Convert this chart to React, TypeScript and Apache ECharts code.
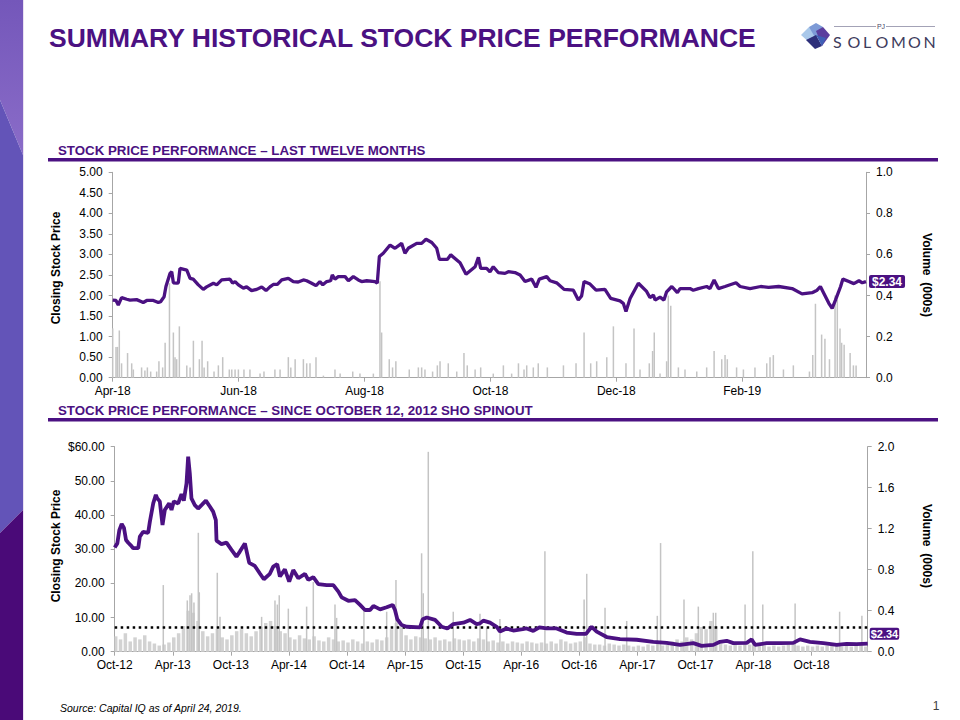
import React, { useEffect, useRef } from 'react';
import * as echarts from 'echarts';

const PURPLE = '#4b1182';
const FONT = '"Liberation Sans", Arial, sans-serif';

// ---- Last twelve months (x = days since Apr 24, 2018) ----
const LTM_TICKS = ['Apr-18', 'Jun-18', 'Aug-18', 'Oct-18', 'Dec-18', 'Feb-19'];
const LTM_TICK_STEP = 61;
const LTM_DAYS = 365;
const LTM_PRICE: [number, number][] = [
  [0, 1.89], [1.6, 1.88], [2.7, 1.77], [4.3, 1.95], [6.8, 1.91], [8.4, 1.89], [11.6, 1.9], [14, 1.85], [14.8, 1.83],
  [16.5, 1.88], [19.7, 1.88], [22.1, 1.83], [23.2, 1.85], [24.9, 1.97], [25.8, 2.22], [27.8, 2.54], [28.6, 2.58],
  [29.4, 2.31], [31, 2.3], [31.8, 2.31], [32.6, 2.66], [35.9, 2.62], [37.5, 2.42], [39, 2.4], [41.5, 2.26], [43.9, 2.15],
  [45.5, 2.21], [48.8, 2.3], [50.4, 2.26], [52.8, 2.38], [56.8, 2.4], [58.1, 2.3], [59.3, 2.34], [60.9, 2.26], [63.3, 2.18],
  [64.9, 2.21], [67.3, 2.12], [69.8, 2.15], [72.2, 2.21], [74.3, 2.12], [76.2, 2.21], [77.8, 2.27], [79.8, 2.27], [81.9, 2.38],
  [85.1, 2.42], [87.5, 2.34], [89.9, 2.33], [92.4, 2.38], [94, 2.36], [96.4, 2.3], [98.5, 2.24], [100.4, 2.34], [101.8, 2.26],
  [103.7, 2.34], [105.6, 2.36], [106.4, 2.5], [107.7, 2.4], [109.3, 2.46], [112.6, 2.46], [114.2, 2.36], [116.6, 2.46],
  [119, 2.38], [120.6, 2.34], [123.1, 2.36], [127.1, 2.34], [128.2, 2.3], [129.2, 2.95], [131.1, 3.03], [134.4, 3.23],
  [136.8, 3.15], [140, 3.27], [141.6, 3.03], [143.2, 3.15], [147.3, 3.27], [149.7, 3.27], [151.8, 3.37], [154.6, 3.29],
  [157, 3.15], [158.3, 2.88], [162.1, 2.88], [163.8, 2.99], [168.3, 2.8], [171.2, 2.52], [175.6, 2.7], [177.2, 2.93],
  [178.3, 2.66], [181.2, 2.66], [182.8, 2.58], [184.4, 2.7], [186.8, 2.56], [190.1, 2.54], [191.7, 2.58], [194.9, 2.56],
  [197.4, 2.5], [199.8, 2.34], [203, 2.4], [205.1, 2.2], [206.7, 2.4], [210.3, 2.46], [211.9, 2.36], [215.1, 2.31],
  [218.7, 2.15], [223.2, 2.13], [225.6, 1.89], [227.2, 1.99], [228.4, 2.34], [231.3, 2.28], [234.2, 2.13], [238.5, 2.15],
  [241.3, 1.93], [245.8, 1.87], [247.4, 1.81], [248.7, 1.61], [250.7, 1.93], [254.7, 2.3], [258.7, 2.1], [260.3, 1.95],
  [262, 2.01], [262.8, 1.89], [265.2, 1.96], [267.1, 1.89], [268.4, 2.09], [270.9, 2.22], [273.6, 2.07], [274.9, 2.17],
  [279.7, 2.17], [281.3, 2.13], [283.8, 2.17], [287.8, 2.22], [289.4, 2.17], [291.4, 2.38], [293.5, 2.17], [296.7, 2.22],
  [302, 2.31], [304, 2.22], [308.8, 2.17], [314, 2.22], [317.8, 2.2], [322.7, 2.22], [329.2, 2.17], [334, 2.04],
  [338.9, 2.07], [341.3, 2.13], [342.9, 2.22], [344.6, 2.05], [347, 1.81], [348.6, 1.69], [350.2, 1.89], [352.7, 2.22],
  [353.8, 2.4], [356.7, 2.34], [359.1, 2.29], [361.6, 2.36], [363.2, 2.31], [365, 2.34],
];
const LTM_VOLUME: [number, number][] = [
  [0, 0.24], [1.6, 0.15], [2.3, 0.15], [3.2, 0.23], [4.3, 0.07], [7.2, 0.12], [9.2, 0.07], [10, 0.04], [14, 0.05],
  [15.6, 0.035], [16.8, 0.05], [18.4, 0.03], [21.3, 0.03], [22.4, 0.08], [24.2, 0.05], [25.4, 0.17], [27.5, 0.46],
  [29.4, 0.22], [30.2, 0.1], [31, 0.09], [32.3, 0.25], [35.9, 0.06], [37.5, 0.05], [39.1, 0.18], [42, 0.09], [43.3, 0.18],
  [44.3, 0.05], [46, 0.08], [49.1, 0.03], [51.2, 0.06], [53.3, 0.1], [56.5, 0.04], [57.7, 0.04], [59.3, 0.04], [60.9, 0.04],
  [63.6, 0.04], [66.5, 0.04], [71.4, 0.02], [73.3, 0.03], [78.6, 0.04], [81.1, 0.04], [85.1, 0.1], [86.3, 0.05], [88.4, 0.09],
  [92.4, 0.09], [94, 0.07], [95.6, 0.07], [98.5, 0.1], [102.1, 0.01], [107.7, 0.04], [110.2, 0.02], [116.3, 0.03],
  [119.8, 0.02], [126.3, 0.02], [129.5, 0.47], [130.3, 0.22], [134, 0.09], [135.6, 0.05], [137.2, 0.08], [143.7, 0.04],
  [148.1, 0.05], [149.7, 0.05], [151.3, 0.04], [155, 0.03], [157.3, 0.06], [158.6, 0.08], [162.6, 0.07], [166.7, 0.03],
  [170.2, 0.12], [171.8, 0.06], [175.6, 0.04], [178.3, 0.05], [184.4, 0.02], [189.3, 0.06], [193.3, 0.02], [196.6, 0.07],
  [199.3, 0.04], [200.6, 0.06], [203.8, 0.05], [206.2, 0.07], [210.6, 0.05], [218.4, 0.06], [224.5, 0.07], [228.4, 0.22],
  [231.6, 0.07], [234.5, 0.08], [239.4, 0.1], [242.6, 0.25], [248.7, 0.07], [252.6, 0.24], [255.5, 0.04], [260, 0.07],
  [261.6, 0.13], [262.4, 0.22], [265.2, 0.02], [268.4, 0.08], [269.2, 0.4], [270.4, 0.35], [274.1, 0.05], [277.3, 0.04],
  [283, 0.03], [287.8, 0.05], [291.4, 0.13], [295.1, 0.09], [296.7, 0.11], [297.8, 0.09], [302.3, 0.05], [305.6, 0.04],
  [311.2, 0.05], [316.9, 0.07], [318.5, 0.1], [320.1, 0.11], [325, 0.04], [329.8, 0.06], [337.6, 0.03], [339.2, 0.11],
  [340.5, 0.36], [343.5, 0.21], [345.1, 0.19], [347.3, 0.09], [350, 0.4], [351.1, 0.38], [352.4, 0.24], [353.2, 0.17],
  [354.4, 0.16], [357.3, 0.12], [358.9, 0.06], [360.2, 0.06],
];

// ---- Since spinout (x = months since Oct 12, 2012) ----
const SPIN_TICKS = ['Oct-12', 'Apr-13', 'Oct-13', 'Apr-14', 'Oct-14', 'Apr-15', 'Oct-15', 'Apr-16', 'Oct-16', 'Apr-17', 'Oct-17', 'Apr-18', 'Oct-18'];
const SPIN_TICK_STEP = 6;
const SPIN_MONTHS = 77.8;
const SPIN_PRICE: [number, number][] = [
  [0, 30.5], [0.27, 31.7], [0.48, 35.6], [0.72, 37.4], [0.96, 36.2], [1.17, 32.7], [1.4, 31.9], [1.64, 31.2], [1.91, 30.3],
  [2.43, 30.3], [2.6, 33.7], [2.94, 35.1], [3.46, 34.8], [3.63, 38.0], [3.98, 43.4], [4.25, 45.9], [4.39, 44.9], [4.66, 44.0],
  [4.94, 37.1], [5.18, 41.5], [5.63, 43.4], [5.87, 41.5], [6.11, 44.0], [6.56, 43.4], [6.9, 46.1], [7.14, 44.2], [7.42, 49.3],
  [7.59, 57.1], [7.76, 52.2], [7.93, 44.9], [8.28, 42.9], [8.62, 41.9], [8.97, 42.9], [9.42, 44.2], [9.83, 42.5], [10.17, 41.0],
  [10.45, 38.5], [10.52, 32.5], [11.03, 31.5], [11.55, 31.9], [12.07, 29.8], [12.58, 27.8], [12.93, 29.3], [13.45, 31.7],
  [13.9, 26.0], [14.48, 25.1], [15, 22.9], [15.41, 21.2], [16.03, 22.8], [16.38, 24.9], [16.79, 25.6], [17.07, 22.0],
  [17.58, 24.1], [18.03, 20.5], [18.45, 23.9], [18.97, 21.5], [19.66, 22.8], [20, 21.0], [20.52, 21.8], [21.04, 19.8],
  [21.9, 19.5], [22.59, 19.5], [23.11, 17.6], [23.45, 15.9], [24.14, 14.9], [24.83, 15.1], [25.35, 13.7], [25.86, 12.2],
  [26.38, 12.2], [26.73, 13.4], [27.42, 12.4], [28.1, 13.0], [28.72, 13.7], [28.96, 12.2], [29.2, 9.5], [29.65, 7.8],
  [30.17, 7.3], [31.55, 7.1], [31.82, 9.5], [32.24, 10.0], [33.1, 9.3], [33.79, 7.3], [34.37, 6.8], [34.99, 8.1], [36.03, 8.5],
  [36.71, 9.3], [37.4, 8.1], [37.74, 8.3], [38.08, 9.1], [38.78, 8.5], [39.47, 7.3], [39.8, 5.9], [40.49, 6.8], [41.18, 6.2],
  [42.16, 6.6], [42.56, 6.8], [43.25, 6.1], [43.88, 7.1], [44.63, 6.8], [45.66, 6.8], [46.7, 5.6], [47.73, 5.2], [48.7, 5.2],
  [49.28, 7.3], [49.8, 5.9], [50.83, 4.3], [52.21, 3.7], [53.93, 3.5], [55.65, 2.9], [57.03, 2.6], [58.41, 2.0], [59.78, 2.5],
  [60.64, 1.7], [61.85, 2.0], [62.54, 2.9], [63.23, 3.2], [63.92, 2.5], [65.3, 2.6], [65.81, 3.6], [66.16, 2.0], [67.36, 2.5],
  [68.74, 2.5], [70.12, 2.6], [70.81, 3.6], [71.84, 2.9], [73.22, 2.5], [74.6, 2.0], [75.63, 2.3], [76.66, 2.2], [77.8, 2.34],
];
// base volume, one value per half month from Oct-12
const SPIN_VOLUME_BASE = [
  0.15, 0.12, 0.18, 0.1, 0.14, 0.12, 0.16, 0.1, 0.08, 0.06, 0.07, 0.09,
  0.14, 0.18, 0.25, 0.4, 0.38, 0.3, 0.2, 0.15, 0.18, 0.22, 0.14, 0.12,
  0.16, 0.2, 0.22, 0.18, 0.15, 0.2, 0.24, 0.28, 0.3, 0.25, 0.2, 0.18,
  0.14, 0.12, 0.16, 0.13, 0.12, 0.15, 0.11, 0.1, 0.14, 0.12, 0.1, 0.11,
  0.09, 0.12, 0.1, 0.08, 0.1, 0.09, 0.12, 0.11, 0.14, 0.22, 0.28, 0.24,
  0.16, 0.12, 0.15, 0.14, 0.13, 0.12, 0.14, 0.11, 0.12, 0.1, 0.13, 0.12,
  0.11, 0.12, 0.1, 0.13, 0.12, 0.1, 0.11, 0.09, 0.1, 0.08, 0.1, 0.09,
  0.08, 0.1, 0.09, 0.08, 0.09, 0.08, 0.1, 0.08, 0.12, 0.1, 0.08, 0.09,
  0.1, 0.14, 0.08, 0.07, 0.07, 0.06, 0.08, 0.07, 0.06, 0.07, 0.06, 0.05,
  0.06, 0.05, 0.07, 0.06, 0.08, 0.06, 0.07, 0.1, 0.12, 0.1, 0.14, 0.12,
  0.18, 0.24, 0.22, 0.3, 0.25, 0.08, 0.07, 0.06, 0.07, 0.06, 0.08, 0.07,
  0.06, 0.07, 0.06, 0.05, 0.06, 0.05, 0.06, 0.07, 0.07, 0.06, 0.05, 0.06,
  0.05, 0.06, 0.05, 0.06, 0.07, 0.06, 0.05, 0.06, 0.05, 0.06, 0.07, 0.05,
];
const SPIN_VOLUME_SPIKES: [number, number][] = [
  [5.02, 0.65], [7.5, 0.5], [7.78, 0.55], [7.95, 0.57], [8.19, 0.48], [8.64, 1.16], [8.74, 0.58], [10.6, 0.77], [10.88, 0.34],
  [15.18, 0.34], [16.56, 0.5], [16.8, 0.46], [17.0, 0.55], [17.94, 0.42], [19.83, 0.44], [20.52, 0.68], [22.76, 0.46],
  [22.93, 0.33], [25.75, 0.4], [28.1, 0.39], [29.06, 0.7], [31.71, 0.96], [31.88, 0.57], [32.4, 1.95], [34.98, 0.39],
  [37.74, 0.37], [38.43, 0.23], [39.8, 0.32], [44.45, 0.98], [48.5, 0.51], [48.77, 0.76], [50.66, 0.43], [52.9, 0.3],
  [56.06, 0.35], [56.4, 1.06], [58.82, 0.51], [60.3, 0.44], [61.85, 0.38], [62.1, 0.38], [65.13, 0.46], [65.93, 0.98],
  [66.96, 0.46], [70.3, 0.47], [74.9, 0.39], [77.2, 0.35],
];
const REFERENCE_PRICE = 7.3;

const axisGray = '#a6a6a6';

function baseXAxis(gridIndex: number, max: number, step: number, ticks: string[]) {
  return {
    type: 'value', gridIndex, min: 0, max, interval: step,
    axisLine: { show: true, lineStyle: { color: axisGray, width: 1 } },
    axisTick: { show: true, length: 4, lineStyle: { color: axisGray } },
    splitLine: { show: false },
    axisLabel: {
      margin: 7, color: '#000', fontSize: 12, fontFamily: FONT, showMaxLabel: false,
      formatter: (v: number) => {
        const k = Math.round(v / step);
        return Math.abs(v - k * step) < 1e-6 && ticks[k] ? ticks[k] : '';
      },
    },
  };
}
function baseYAxis(gridIndex: number, max: number, step: number, position: string, fmt: (v: number) => string) {
  return {
    type: 'value', gridIndex, min: 0, max, interval: step, position,
    axisLine: { show: true, lineStyle: { color: axisGray, width: 1 } },
    axisTick: { show: true, length: 4, lineStyle: { color: axisGray } },
    splitLine: { show: false },
    axisLabel: { margin: 10, color: '#000', fontSize: 12, fontFamily: FONT, formatter: fmt },
  };
}

function buildOption() {
  const spinBase = SPIN_VOLUME_BASE.map((v, i) => [i * 0.5, v] as [number, number]);
  const lastLtm = LTM_PRICE[LTM_PRICE.length - 1][1];
  const lastSpin = SPIN_PRICE[SPIN_PRICE.length - 1][1];

  const logoLetters = ['S', 'O', 'L', 'O', 'M', 'O', 'N'];
  const logoX = [833, 847.5, 863, 875.5, 891, 908, 923.5];

  const graphic: any[] = [
    // left decorative stripe
    { type: 'polygon', shape: { points: [[0, 0], [23, 0], [23, 155], [0, 100]] },
      style: { fill: new echarts.graphic.LinearGradient(0, 0, 0, 1, [{ offset: 0, color: '#7457ba' }, { offset: 1, color: '#8a6cc8' }]) } },
    { type: 'polygon', shape: { points: [[0, 100], [23, 155], [23, 510], [0, 533]] }, style: { fill: '#6354b8' } },
    { type: 'polygon', shape: { points: [[0, 533], [23, 510], [23, 720], [0, 720]] }, style: { fill: '#4a0a78' } },
    { type: 'rect', shape: { x: 23, y: 0, width: 1, height: 720 }, style: { fill: '#e9e1f2' } },
    // title
    { type: 'text', x: 49, y: 38, style: { text: 'SUMMARY HISTORICAL STOCK PRICE PERFORMANCE', fill: PURPLE, font: `bold 26.5px ${FONT}`, textVerticalAlign: 'middle' } },
    // logo icon
    { type: 'polygon', shape: { points: [[801, 35], [809, 27], [816, 31], [811, 44]] }, style: { fill: '#a9c8ea' } },
    { type: 'polygon', shape: { points: [[809, 27], [816, 23], [823, 27], [816, 39]] }, style: { fill: '#7d9ad6' } },
    { type: 'polygon', shape: { points: [[816, 31], [823, 27], [830, 35], [822, 46]] }, style: { fill: '#5b3e9e' } },
    { type: 'polygon', shape: { points: [[806, 40], [816, 35], [822, 46], [815, 49]] }, style: { fill: '#2d2f7a' } },
    { type: 'polygon', shape: { points: [[816, 35], [826, 38], [822, 46]] }, style: { fill: '#3f5fb5' } },
    { type: 'line', shape: { x1: 834, y1: 26.5, x2: 876, y2: 26.5 }, style: { stroke: '#8c8aa3', lineWidth: 0.8 } },
    { type: 'line', shape: { x1: 886, y1: 26.5, x2: 935, y2: 26.5 }, style: { stroke: '#8c8aa3', lineWidth: 0.8 } },
    { type: 'text', x: 881, y: 26.5, style: { text: 'PJ', fill: '#4a4866', font: `7px ${FONT}`, textAlign: 'center', textVerticalAlign: 'middle' } },
    ...logoLetters.map((ch, i) => ({ type: 'text', x: logoX[i], y: 41.5,
      style: { text: ch, fill: '#3d3b5c', font: `16px Lato, ${FONT}`, textVerticalAlign: 'middle' } })),
    // section headers
    { type: 'text', x: 58, y: 150, style: { text: 'STOCK PRICE PERFORMANCE – LAST TWELVE MONTHS', fill: PURPLE, font: `bold 13.3px ${FONT}`, textVerticalAlign: 'middle' } },
    { type: 'rect', shape: { x: 48, y: 158, width: 890, height: 3.5 }, style: { fill: PURPLE } },
    { type: 'text', x: 58, y: 410, style: { text: 'STOCK PRICE PERFORMANCE – SINCE OCTOBER 12, 2012 SHO SPINOUT', fill: PURPLE, font: `bold 13.3px ${FONT}`, textVerticalAlign: 'middle' } },
    { type: 'rect', shape: { x: 48, y: 418, width: 890, height: 3.5 }, style: { fill: PURPLE } },
    // axis names
    { type: 'text', x: 56, y: 268, rotation: Math.PI / 2, style: { text: 'Closing Stock Price', fill: '#000', font: `bold 12px ${FONT}`, textAlign: 'center', textVerticalAlign: 'middle' } },
    { type: 'text', x: 927, y: 275, rotation: -Math.PI / 2, style: { text: 'Volume  (000s)', fill: '#000', font: `bold 12px ${FONT}`, textAlign: 'center', textVerticalAlign: 'middle' } },
    { type: 'text', x: 56, y: 546, rotation: Math.PI / 2, style: { text: 'Closing Stock Price', fill: '#000', font: `bold 12px ${FONT}`, textAlign: 'center', textVerticalAlign: 'middle' } },
    { type: 'text', x: 927, y: 546, rotation: -Math.PI / 2, style: { text: 'Volume  (000s)', fill: '#000', font: `bold 12px ${FONT}`, textAlign: 'center', textVerticalAlign: 'middle' } },
    // footer
    { type: 'text', x: 60, y: 708, style: { text: 'Source: Capital IQ as of April 24, 2019.', fill: '#000', font: `italic 10.5px ${FONT}`, textVerticalAlign: 'middle' } },
    { type: 'text', x: 936, y: 706, style: { text: '1', fill: '#404040', font: `12px ${FONT}`, textAlign: 'center', textVerticalAlign: 'middle' } },
  ];

  return {
    animation: false,
    backgroundColor: '#ffffff',
    textStyle: { fontFamily: FONT },
    grid: [
      { left: 112.7, top: 172.3, width: 753.3, height: 205.4 },
      { left: 114.7, top: 446.7, width: 753, height: 205 },
    ],
    xAxis: [
      baseXAxis(0, LTM_DAYS, LTM_TICK_STEP, LTM_TICKS),
      baseXAxis(1, SPIN_MONTHS, SPIN_TICK_STEP, SPIN_TICKS),
    ],
    yAxis: [
      baseYAxis(0, 5, 0.5, 'left', (v) => v.toFixed(2)),
      baseYAxis(0, 1, 0.2, 'right', (v) => v.toFixed(1)),
      baseYAxis(1, 60, 10, 'left', (v) => (v === 60 ? '$60.00' : v.toFixed(2))),
      baseYAxis(1, 2, 0.4, 'right', (v) => v.toFixed(1)),
    ],
    series: [
      { type: 'bar', xAxisIndex: 0, yAxisIndex: 1, data: LTM_VOLUME, barWidth: 1.5, itemStyle: { color: '#c4c4c4' }, silent: true },
      {
        type: 'line', xAxisIndex: 0, yAxisIndex: 0, data: LTM_PRICE, showSymbol: false, symbol: 'none',
        lineStyle: { color: PURPLE, width: 3.3 }, z: 5,
        endLabel: {
          show: true, formatter: () => '$' + lastLtm.toFixed(2), color: '#fff', fontWeight: 'bold', fontSize: 12,
          fontFamily: FONT, backgroundColor: PURPLE, padding: [1, 3, 0, 3], borderRadius: 2, distance: 3,
        },
      },
      { type: 'bar', xAxisIndex: 1, yAxisIndex: 3, data: spinBase, barWidth: 3.5, barGap: '-100%', itemStyle: { color: '#d2d2d2' }, silent: true },
      { type: 'bar', xAxisIndex: 1, yAxisIndex: 3, data: SPIN_VOLUME_SPIKES, barWidth: 1.5, barGap: '-100%', itemStyle: { color: '#c4c4c4' }, silent: true },
      {
        type: 'line', xAxisIndex: 1, yAxisIndex: 2, data: SPIN_PRICE, showSymbol: false, symbol: 'none',
        lineStyle: { color: PURPLE, width: 3.8 }, z: 5,
        endLabel: {
          show: true, formatter: () => '$' + lastSpin.toFixed(2), color: '#fff', fontWeight: 'bold', fontSize: 11,
          fontFamily: FONT, backgroundColor: PURPLE, padding: [1, 1, 0, 1], borderRadius: 2, distance: 2, offset: [0, -10],
        },
        markLine: {
          silent: true, symbol: 'none', label: { show: false },
          lineStyle: { color: '#000', width: 2.5, type: [2.5, 3.5] },
          data: [{ yAxis: REFERENCE_PRICE }],
        },
      },
    ],
    graphic,
  };
}

export default function App() {
  const ref = useRef<HTMLDivElement>(null);
  useEffect(() => {
    const chart = echarts.init(ref.current!, undefined, { renderer: 'svg' });
    chart.setOption(buildOption() as any);
    return () => chart.dispose();
  }, []);
  return (
    <div
      ref={ref}
      style={{ position: 'fixed', left: 0, top: 0, width: 960, height: 720, background: '#fff' }}
    />
  );
}
